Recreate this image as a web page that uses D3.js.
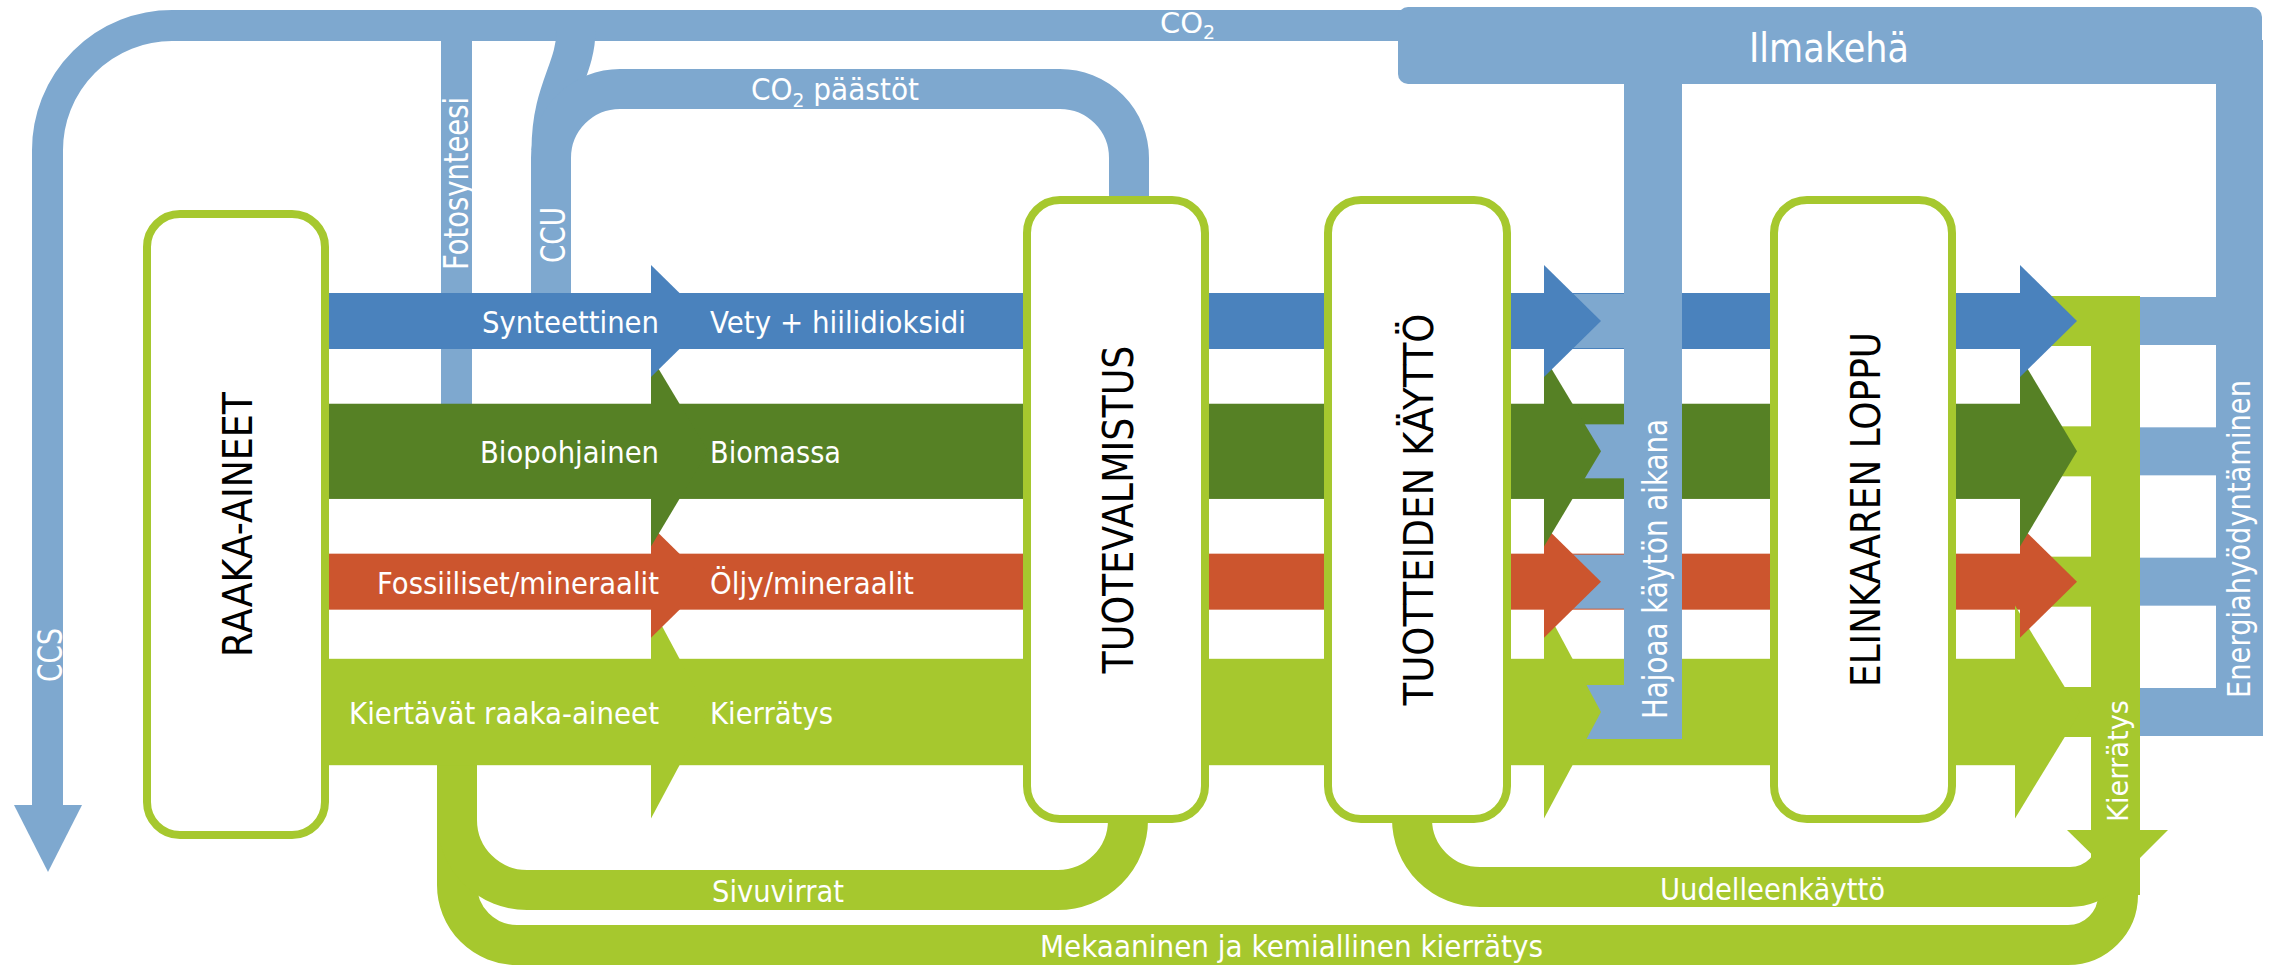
<!DOCTYPE html>
<html>
<head>
<meta charset="utf-8">
<script src="https://cdn.jsdelivr.net/npm/d3@7"></script>
<style>
  html, body { margin: 0; padding: 0; background: #fff; }
  svg { display: block; font-family: "DejaVu Sans", sans-serif; }
</style>
</head>
<body>
<div id="vis"></div>
<script>
// stages of the life cycle, left to right
var stages = ["RAAKA-AINEET", "TUOTEVALMISTUS", "TUOTTEIDEN KÄYTTÖ", "ELINKAAREN LOPPU"];

// material streams, top to bottom
var sources = ["Synteettinen", "Biopohjainen", "Fossiiliset/mineraalit", "Kiertävät raaka-aineet"];
var materials = ["Vety + hiilidioksidi", "Biomassa", "Öljy/mineraalit", "Kierrätys"];

// relative width of each stream (synthetic = 1)
var streamFlow = [1.0, 1.7, 1.0, 1.9];

// loops back to the start
var loops = ["Sivuvirrat", "Uudelleenkäyttö", "Mekaaninen ja kemiallinen kierrätys"];

// carbon flows
var carbon = {
  top: "CO", emis: "päästöt", photo: "Fotosynteesi", ccu: "CCU", ccs: "CCS",
  air: "Ilmakehä", decay: "Hajoaa käytön aikana", energy: "Energiahyödyntäminen", recycle: "Kierrätys"
};

var colors = { sky: "#7ea8cf", blue: "#4a82bd", green: "#568125", red: "#cc552e", lime: "#a6c82e" };
var streamColor = [colors.blue, colors.green, colors.red, colors.lime];

var width = 2277, height = 966;

var svg = d3.select("#vis").append("svg")
  .attr("width", width)
  .attr("height", height);

// Scales
var yc = d3.scalePoint()
  .domain(sources)
  .range([321, 712]);

var thick = d3.scaleLinear()
  .domain([0, 1])
  .range([0, 56]);

var streams = sources.map(function(s, i) {
  var t = thick(streamFlow[i]);
  return { name: s, material: materials[i], c: yc(s), t: t, color: streamColor[i] };
});

// Layout
var boxes = [[143, 210, 329, 839], [1023, 196, 1209, 823], [1324, 196, 1511, 823], [1770, 196, 1956, 823]];
var arrowBack = [651, 1544, 2020],
    tipLen = 57;
var decayBar = [1624, 1682],
    recycleBar = [2091, 2140],
    energyBar = [2216, 2263];

function rect(x0, y0, x1, y1, fill) {
  return svg.append("rect")
    .attr("x", x0).attr("y", y0)
    .attr("width", x1 - x0).attr("height", y1 - y0)
    .attr("fill", fill);
}

function poly(pts, fill) {
  return svg.append("path")
    .attr("d", d3.line()(pts) + "Z")
    .attr("fill", fill);
}

function band(p, w, color) {
  return svg.append("path")
    .attr("d", p.toString())
    .attr("fill", "none")
    .attr("stroke", color)
    .attr("stroke-width", w);
}

// --- CO2 from the atmosphere: top bar, bend and CCS
var p = d3.path();
p.moveTo(47.5, 810);
p.lineTo(47.5, 150);
p.arc(172, 150, 124.5, Math.PI, 1.5 * Math.PI, false);
p.lineTo(1410, 25.5);
band(p, 31, colors.sky);
poly([[14, 805], [82, 805], [48, 872]], colors.sky);

// Ilmakehä
svg.append("rect")
  .attr("x", 1398).attr("y", 7)
  .attr("width", 864).attr("height", 77)
  .attr("rx", 10)
  .attr("fill", colors.sky);

// Fotosynteesi
rect(441, 35, 472, 406, colors.sky);

// CCU branch from the top bar
p = d3.path();
p.moveTo(576, 30);
p.bezierCurveTo(576, 70, 551, 90, 551, 150);
band(p, 39, colors.sky);

// CO2 päästöt -> CCU
p = d3.path();
p.moveTo(1129, 205);
p.lineTo(1129, 158);
p.arc(1060, 158, 69, 0, -Math.PI / 2, true);
p.lineTo(620, 89);
p.arc(620, 158, 69, -Math.PI / 2, -Math.PI, true);
p.lineTo(551, 300);
band(p, 40, colors.sky);

// --- recycling loops
p = d3.path();
p.moveTo(457, 760);
p.lineTo(457, 885);
p.arc(517, 885, 60, Math.PI, Math.PI / 2, true);
p.lineTo(2068, 945);
p.arc(2068, 895, 50, Math.PI / 2, 0, true);
p.lineTo(2118, 830);
band(p, 40, colors.lime);

p = d3.path();
p.moveTo(1128, 815);
p.lineTo(1128, 820);
p.arc(1058, 820, 70, 0, Math.PI / 2, false);
p.lineTo(527, 890);
p.arc(527, 820, 70, Math.PI / 2, Math.PI, false);
p.lineTo(457, 760);
band(p, 40, colors.lime);

p = d3.path();
p.moveTo(1412, 815);
p.lineTo(1412, 819);
p.arc(1480, 819, 68, Math.PI, Math.PI / 2, true);
p.lineTo(2070, 887);
p.arc(2070, 839, 48, Math.PI / 2, 0, true);
p.lineTo(2118, 830);
band(p, 40, colors.lime);

// --- main streams
streams.forEach(function(d, i) {
  var end = i === 3 ? 2015 : arrowBack[2] + 2;
  rect(325, d.c - d.t / 2, end, d.c + d.t / 2, d.color);
});

// degrading during use (column 3)
streams.forEach(function(d) {
  rect(arrowBack[1] + 2, d.c - 27, decayBar[0] + 1, d.c + 27, colors.sky);
});
rect(decayBar[0], 80, decayBar[1], streams[3].c + 27, colors.sky);

// end of life split: recycling and energy (column 4)
streams.forEach(function(d) {
  rect(2035, d.c - 25, recycleBar[0] + 1, d.c + 25, colors.lime);
  rect(recycleBar[1] - 1, d.c - 24, energyBar[0] + 1, d.c + 24, colors.sky);
});
rect(recycleBar[0], streams[0].c - 25, recycleBar[1], 895, colors.lime);
rect(energyBar[0], 40, energyBar[1], streams[3].c + 24, colors.sky);

// arrow heads, bottom stream first
arrowBack.forEach(function(bx, k) {
  streams.slice().reverse().forEach(function(d) {
    var b = (k === 2 && d.color === colors.lime) ? bx - 5 : bx;
    poly([[b, d.c - d.t], [b + tipLen + (b === bx ? 0 : 8), d.c], [b, d.c + d.t]], d.color);
  });
});

// recycling arrow down
poly([[2067, 830], [2168, 830], [2118, 880]], colors.lime);

// --- stage boxes
svg.selectAll(".stage")
  .data(stages)
  .enter().append("rect")
    .attr("class", "stage")
    .attr("x", function(d, i) { return boxes[i][0] + 4; })
    .attr("y", function(d, i) { return boxes[i][1] + 4; })
    .attr("width", function(d, i) { return boxes[i][2] - boxes[i][0] - 8; })
    .attr("height", function(d, i) { return boxes[i][3] - boxes[i][1] - 8; })
    .attr("rx", 33)
    .attr("fill", "#fff")
    .attr("stroke", colors.lime)
    .attr("stroke-width", 8);

var stageText = [[252, 265, 41], [1133, 328, 42], [1433, 392, 41], [1880, 355, 41]];
svg.selectAll(".stage-label")
  .data(stages)
  .enter().append("text")
    .attr("class", "stage-label")
    .attr("transform", function(d, i) {
      return "translate(" + stageText[i][0] + "," + (boxes[i][1] + boxes[i][3]) / 2 + ") rotate(-90)";
    })
    .attr("text-anchor", "middle")
    .attr("font-size", function(d, i) { return stageText[i][2]; })
    .attr("textLength", function(d, i) { return stageText[i][1]; })
    .attr("lengthAdjust", "spacingAndGlyphs")
    .attr("fill", "#000")
    .text(function(d) { return d; });

// --- labels
function hText(str, x, y, len, size, anchor) {
  return svg.append("text")
    .attr("x", x).attr("y", y)
    .attr("font-size", size)
    .attr("text-anchor", anchor || "start")
    .attr("textLength", len)
    .attr("lengthAdjust", "spacingAndGlyphs")
    .attr("fill", "#fff")
    .text(str);
}

function vText(str, bx, y0, len, size) {
  return svg.append("text")
    .attr("transform", "translate(" + bx + "," + y0 + ") rotate(-90)")
    .attr("font-size", size)
    .attr("textLength", len)
    .attr("lengthAdjust", "spacingAndGlyphs")
    .attr("fill", "#fff")
    .text(str);
}

var srcLen = [177, 179, 282, 310],
    matLen = [256, 131, 204, 123];
streams.forEach(function(d, i) {
  hText(d.name, 659, d.c + 12, srcLen[i], 30, "end");
  hText(d.material, 710, d.c + 12, matLen[i], 30);
});

hText(loops[0], 712, 902, 132, 30);
hText(loops[1], 1660, 900, 225, 30);
hText(loops[2], 1040, 957, 503, 30);
hText(carbon.air, 1749, 62, 160, 41);

// CO2 labels with subscript
var co2 = svg.append("text")
  .attr("x", 1160).attr("y", 33)
  .attr("font-size", 29)
  .attr("fill", "#fff")
  .text(carbon.top);
co2.append("tspan").attr("font-size", 19).attr("dy", 6).text("2");

var emis = svg.append("text")
  .attr("x", 751).attr("y", 100)
  .attr("font-size", 30)
  .attr("textLength", 168)
  .attr("lengthAdjust", "spacingAndGlyphs")
  .attr("fill", "#fff")
  .text(carbon.top);
emis.append("tspan").attr("font-size", 20).attr("dy", 7).text("2");
emis.append("tspan").attr("dy", -7).text(" " + carbon.emis);

vText(carbon.photo, 468, 270, 173, 33);
vText(carbon.ccu, 565, 263, 56, 33);
vText(carbon.ccs, 62, 682, 54, 33);
vText(carbon.decay, 1667, 719, 300, 33);
vText(carbon.energy, 2250, 698, 318, 32);
vText(carbon.recycle, 2128, 822, 122, 29);
</script>
</body>
</html>
